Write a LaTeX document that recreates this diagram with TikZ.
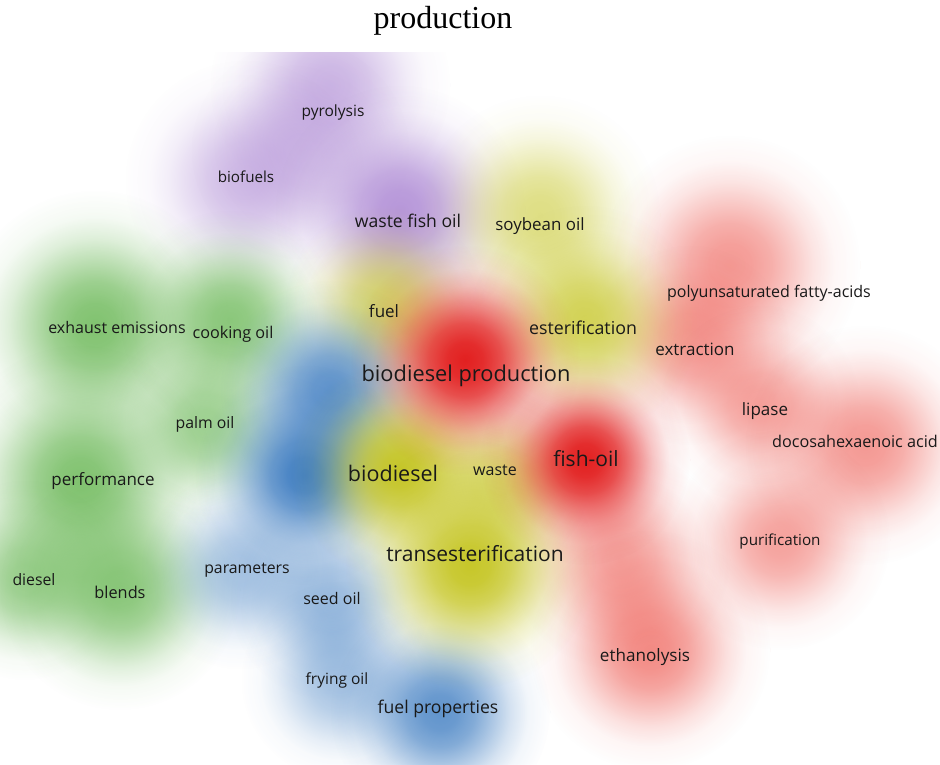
\documentclass[tikz,border=0pt]{standalone}
\usepackage{fontspec}
\setmainfont{Liberation Serif}
\newfontfamily\labfont{Open Sans}
\usetikzlibrary{fadings}
\pgfdeclareradialshading{blobsh}{\pgfpointorigin}{color(0bp)=(black!0); color(8bp)=(black!6); color(16bp)=(black!22); color(24bp)=(black!48); color(32bp)=(black!74); color(40bp)=(black!92); color(50bp)=(black!100)}
\pgfdeclarefading{blob}{\pgfuseshading{blobsh}}
\definecolor{vpurple}{RGB}{165,125,208}
\definecolor{vyellow}{RGB}{196,196,30}
\definecolor{vred}{RGB}{226,28,28}
\definecolor{vsalmon}{RGB}{236,70,60}
\definecolor{vgreen}{RGB}{94,178,72}
\definecolor{vblue}{RGB}{58,122,192}
\definecolor{labc}{RGB}{25,25,25}
\tikzset{
  lbl/.style={font=\labfont\fontsize{#1}{#1}\selectfont, text=labc, inner sep=0pt},
  ttl/.style={font=\fontsize{32}{32}\selectfont, text=black, inner sep=0pt}
}
\newcommand\vblob[4]{\fill[#1, fill opacity=#4, path fading=blob, fit fading=false, fading transform={shift={(#2)}, scale=#3/50}] (#2) circle (#3);}
\begin{document}
\begin{tikzpicture}[x=1pt,y=-1pt]
\fill[white] (0,0) rectangle (940,764);
\useasboundingbox (0,0) rectangle (940,764);
\node[ttl] (title) at (443,21) {production};
\begin{scope}
\clip (0,52) rectangle (940,764);
% purple
\vblob{vpurple}{330,85}{120}{0.55}
\vblob{vpurple}{245,180}{120}{0.5}
\vblob{vpurple}{300,150}{110}{0.35}
\vblob{vpurple}{400,210}{125}{0.8}
% green
\vblob{vgreen}{95,325}{135}{0.78}
\vblob{vgreen}{230,320}{110}{0.72}
\vblob{vgreen}{205,425}{100}{0.6}
\vblob{vgreen}{80,480}{135}{0.78}
\vblob{vgreen}{25,580}{100}{0.6}
\vblob{vgreen}{120,590}{120}{0.72}
% red weak
\vblob{vsalmon}{730,265}{130}{0.55}
\vblob{vsalmon}{690,345}{100}{0.5}
\vblob{vsalmon}{760,405}{100}{0.5}
\vblob{vsalmon}{865,445}{120}{0.55}
\vblob{vsalmon}{780,540}{110}{0.5}
\vblob{vsalmon}{620,560}{110}{0.5}
\vblob{vsalmon}{650,650}{120}{0.62}
% yellow weak
\vblob{vyellow}{540,215}{120}{0.55}
\vblob{vyellow}{385,305}{100}{0.65}
\vblob{vyellow}{585,320}{115}{0.75}
\vblob{vyellow}{500,480}{90}{0.6}
% blue
\vblob{vblue}{240,570}{100}{0.45}
\vblob{vblue}{330,600}{100}{0.5}
\vblob{vblue}{340,680}{100}{0.45}
\vblob{vblue}{440,712}{110}{0.8}
\vblob{vblue}{330,390}{110}{0.8}
\vblob{vblue}{305,475}{110}{0.95}
% strong
\vblob{vyellow}{400,470}{110}{0.95}
\vblob{vyellow}{470,565}{125}{0.95}
\vblob{vred}{465,360}{115}{0.98}
\vblob{vred}{585,460}{105}{0.98}
\end{scope}
% labels
\node[lbl=15.5] (pyrolysis) at (333,112) {pyrolysis};
\node[lbl=15.2] (biofuels) at (246,177) {biofuels};
\node[lbl=17.6] (wfo) at (408,221) {waste fish oil};
\node[lbl=16.9] (soy) at (540,226) {soybean oil};
\node[lbl=16] (pufa) at (769,293) {polyunsaturated fatty-acids};
\node[lbl=16] (exh) at (117,327) {exhaust emissions};
\node[lbl=16.2] (cook) at (233,334) {cooking oil};
\node[lbl=17] (fuel) at (384,311) {fuel};
\node[lbl=17.8] (ester) at (583,328) {esterification};
\node[lbl=17] (extr) at (695,349) {extraction};
\node[lbl=21.8] (bp) at (466,376) {biodiesel production};
\node[lbl=15.8] (palm) at (205,424) {palm oil};
\node[lbl=17] (lipase) at (765,411) {lipase};
\node[lbl=16.2] (dha) at (855,441) {docosahexaenoic acid};
\node[lbl=17] (perf) at (103,481) {performance};
\node[lbl=21.5] (bd) at (393,473) {biodiesel};
\node[lbl=16] (waste) at (495,470) {waste};
\node[lbl=21] (fish) at (586,459) {fish-oil};
\node[lbl=15.2] (purif) at (780,542) {purification};
\node[lbl=21] (trans) at (475,554) {transesterification};
\node[lbl=15.8] (diesel) at (34,580) {diesel};
\node[lbl=16.3] (blends) at (120,592) {blends};
\node[lbl=15.8] (param) at (247,570) {parameters};
\node[lbl=16] (seed) at (332,598) {seed oil};
\node[lbl=17.1] (ethan) at (645,657) {ethanolysis};
\node[lbl=15.5] (frying) at (337,680) {frying oil};
\node[lbl=17.6] (fprop) at (438,709) {fuel properties};
\end{tikzpicture}
\end{document}
